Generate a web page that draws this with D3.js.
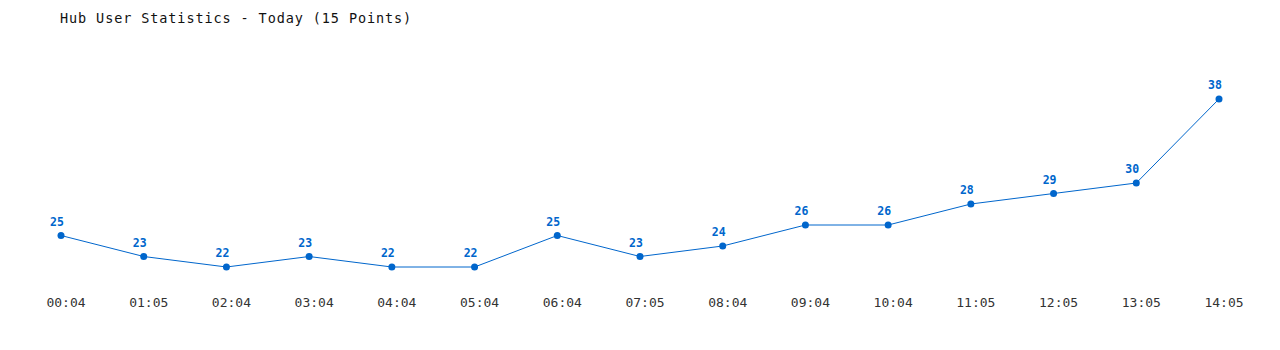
<!DOCTYPE html>
<html><head><meta charset="utf-8">
<script src="https://cdn.jsdelivr.net/npm/d3@7"></script>
<style>body{margin:0;background:#fff}svg{display:block}</style>
</head><body>
<svg id="c" width="1280" height="350"></svg>
<script>
const title = "Hub User Statistics - Today (15 Points)";
const times = ["00:04","01:05","02:04","03:04","04:04","05:04","06:04","07:05","08:04","09:04","10:04","11:05","12:05","13:05","14:05"];
const users = [25,23,22,23,22,22,25,23,24,26,26,28,29,30,38];

const svg = d3.select("#c");
const font = "'DejaVu Sans Mono', monospace";
const color = "#0066cc";
const x = d3.scalePoint().domain(times).range([61,1219]);
const y = d3.scaleLinear().domain([22,38]).range([267,99]);

svg.append("text").attr("x",60).attr("y",23).text(title)
  .attr("font-family",font).attr("font-size",13.5).attr("letter-spacing","0.9px").attr("fill","#111");

const axis = d3.axisBottom(x).tickSize(0).tickPadding(0);
const g = svg.append("g").attr("transform","translate(4.5,298)").call(axis);
g.select(".domain").remove();
g.selectAll("text").attr("font-family",font).attr("font-size",13).attr("fill","#333").attr("dy","0.71em");

svg.append("path").datum(users.map((v,i)=>[times[i],v]))
  .attr("fill","none").attr("stroke",color).attr("stroke-width",1)
  .attr("d",d3.line().x(d=>x(d[0])).y(d=>y(d[1])));

svg.selectAll("circle.p").data(users).join("circle")
  .attr("cx",(d,i)=>x(times[i])).attr("cy",d=>y(d)).attr("r",3.5).attr("fill",color);

svg.selectAll("text.v").data(users).join("text").attr("class","v")
  .attr("x",(d,i)=>x(times[i])).attr("y",d=>y(d)-10).attr("dx",-4).attr("text-anchor","middle")
  .attr("font-family",font).attr("font-size",11.5).attr("font-weight","bold").attr("fill",color)
  .text(d=>d);
</script>
</body></html>
